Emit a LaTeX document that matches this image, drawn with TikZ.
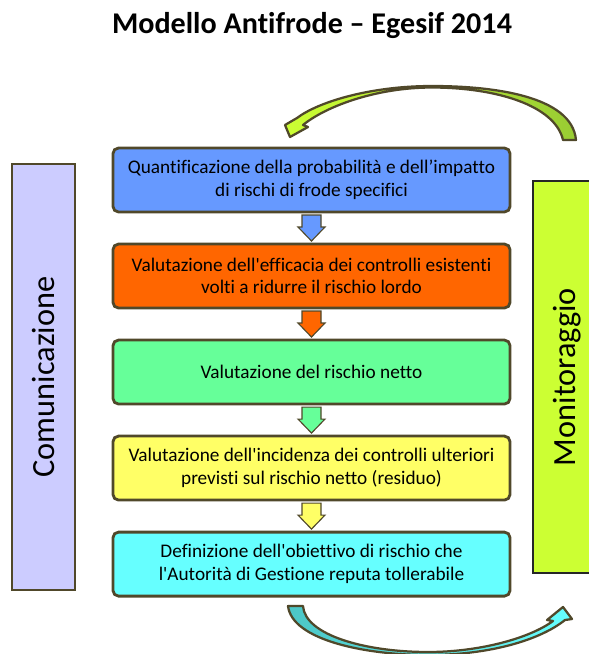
\documentclass[tikz,border=0pt]{standalone}
\usepackage{fontspec}
\setmainfont{Carlito}[Ligatures={TeXOff,CommonOff}]
\usepackage{tikz}
\usetikzlibrary{positioning,calc}

\definecolor{edge}{RGB}{80,72,42}
\definecolor{quant}{HTML}{6699FF}
\definecolor{effic}{HTML}{FF6600}
\definecolor{netto}{HTML}{66FF99}
\definecolor{incid}{HTML}{FFFF66}
\definecolor{obiet}{HTML}{66FFFF}
\definecolor{comm}{HTML}{CCCCFF}
\definecolor{monit}{HTML}{CCFF33}
\definecolor{monitdark}{HTML}{99CC33}
\definecolor{obietdark}{HTML}{4CC6C6}

\begin{document}
\begin{tikzpicture}[
        x=0.025cm, y=-0.025cm,
        node distance=0.8cm,
        stepbox/.style={draw=edge, line width=2pt, rounded corners=4pt, outer sep=0pt,
            minimum width=9.925cm, minimum height=1.6cm, align=center,
            font=\fontsize{13.7}{16}\selectfont},
        sidebox/.style={line width=1.6pt, outer sep=0pt, rotate=90,
            font=\fontsize{23}{27}\selectfont},
        pics/blockdown/.style={code={
            \path[pic actions, draw=edge, line width=0.8pt, line join=miter]
                (-9.5,-13) -- (9.5,-13) -- (9.5,-1) -- (13.5,-1) -- (0,13)
                -- (-13.5,-1) -- (-9.5,-1) -- cycle;}},
        loop/.style={draw=edge, line width=1.6pt, line join=round}
    ]
    \useasboundingbox (0,0) rectangle (589,654);
    \clip (0,0) rectangle (589,654);

    % Title
    \node (title) at (312,25) {\fontsize{21.4}{25}\selectfont\bfseries Modello Antifrode – Egesif 2014};

    % Side bars
    \node[sidebox, draw=edge, fill=comm, minimum width=10.65cm, minimum height=1.575cm]
        (comunic) at (43.5,377) {Comunicazione};
    \node[sidebox, draw=black!85, fill=monit, minimum width=9.8cm, minimum height=1.7cm]
        (monitor) at (567,377) {Monitoraggio};

    % Process steps
    \node[stepbox, fill=quant] (quantif) at (311.5,180)
        {Quantificazione della probabilità e dell’impatto\\di rischi di frode specifici};
    \node[stepbox, fill=effic, below=of quantif] (efficacia)
        {Valutazione dell'efficacia dei controlli esistenti\\volti a ridurre il rischio lordo};
    \node[stepbox, fill=netto, below=of efficacia] (rischionetto)
        {Valutazione del rischio netto};
    \node[stepbox, fill=incid, below=of rischionetto] (incidenza)
        {Valutazione dell'incidenza dei controlli ulteriori\\previsti sul rischio netto (residuo)};
    \node[stepbox, fill=obiet, below=of incidenza] (obiettivo)
        {Definizione dell'obiettivo di rischio che\\l'Autorità di Gestione reputa tollerabile};

    % Block arrows between the steps
    \pic[fill=quant] at ($(quantif.south)!0.5!(efficacia.north)$) {blockdown};
    \pic[fill=effic] at ($(efficacia.south)!0.5!(rischionetto.north)$) {blockdown};
    \pic[fill=netto] at ($(rischionetto.south)!0.5!(incidenza.north)$) {blockdown};
    \pic[fill=incid] at ($(incidenza.south)!0.5!(obiettivo.north)$) {blockdown};

    % Curved arrow on top (monitoring back to the start)
    \path[loop, left color=monit, right color=monitdark] (576,140)
        .. controls (572,95) and (490,86) .. (432,86)
        .. controls (370,86) and (318,102) .. (297,118)
        -- (285,125) -- (290,137) -- (308,127) -- (303,125)
        .. controls (325,107) and (375,87.5) .. (432,87.5)
        .. controls (495,87.5) and (555,105) .. (563,140) -- cycle;

    % Curved arrow at the bottom (towards monitoring)
    \path[loop, left color=obietdark, right color=obiet] (288,606)
        .. controls (292,640) and (365,655) .. (428,655)
        .. controls (490,655) and (540,640) .. (565,620)
        -- (572,619) -- (563,607) -- (547,620) -- (553,621)
        .. controls (530,638) and (480,652) .. (428,652)
        .. controls (365,652) and (305,635) .. (303,606) -- cycle;

\end{tikzpicture}
\end{document}
